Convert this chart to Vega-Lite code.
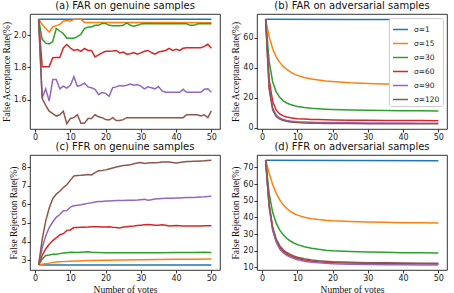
{
"$schema":"https://vega.github.io/schema/vega-lite/v6.json",
"padding":{"left":0,"top":0,"right":0,"bottom":0},
"config":{
"font":"DejaVu Sans",
"view":{"stroke":"#000","strokeWidth":0.8},
"axis":{"grid":false,"domain":false,"tickColor":"#000","tickSize":3,"tickWidth":0.8,"labelFontSize":8,"labelColor":"#222","labelPadding":1,"titleFont":"Liberation Serif","titleFontSize":9.5,"titleFontWeight":"normal","titleColor":"#111","titlePadding":2},
"title":{"fontSize":10,"fontWeight":"normal","font":"DejaVu Sans","offset":3,"color":"#111"},
"line":{"strokeWidth":1.5}
},
"datasets":{
"a":[
{"s":1,"n":1,"v":2.097},{"s":1,"n":50,"v":2.097},
{"s":15,"n":1,"v":2.097},{"s":15,"n":2,"v":2.065},{"s":15,"n":3,"v":2.04},{"s":15,"n":4,"v":2.018},{"s":15,"n":5,"v":2.05},{"s":15,"n":6,"v":2.058},{"s":15,"n":7,"v":2.066},{"s":15,"n":8,"v":2.085},{"s":15,"n":9,"v":2.09},{"s":15,"n":10,"v":2.085},{"s":15,"n":11,"v":2.097},{"s":15,"n":12,"v":2.097},{"s":15,"n":13,"v":2.097},{"s":15,"n":14,"v":2.078},{"s":15,"n":20,"v":2.078},{"s":15,"n":30,"v":2.078},{"s":15,"n":40,"v":2.077},{"s":15,"n":50,"v":2.076},
{"s":30,"n":1,"v":2.097},{"s":30,"n":2,"v":1.975},{"s":30,"n":3,"v":1.95},{"s":30,"n":4,"v":1.945},{"s":30,"n":5,"v":1.96},{"s":30,"n":6,"v":2.04},{"s":30,"n":7,"v":2.025},{"s":30,"n":8,"v":2.01},{"s":30,"n":9,"v":1.98},{"s":30,"n":10,"v":1.98},{"s":30,"n":11,"v":1.98},{"s":30,"n":12,"v":1.99},{"s":30,"n":13,"v":2.005},{"s":30,"n":14,"v":2.04},{"s":30,"n":15,"v":2.05},{"s":30,"n":16,"v":2.05},{"s":30,"n":17,"v":2.06},{"s":30,"n":18,"v":2.06},{"s":30,"n":19,"v":2.072},{"s":30,"n":20,"v":2.072},{"s":30,"n":21,"v":2.06},{"s":30,"n":22,"v":2.058},{"s":30,"n":23,"v":2.058},{"s":30,"n":24,"v":2.058},{"s":30,"n":25,"v":2.06},{"s":30,"n":26,"v":2.075},{"s":30,"n":27,"v":2.06},{"s":30,"n":28,"v":2.055},{"s":30,"n":29,"v":2.06},{"s":30,"n":30,"v":2.068},{"s":30,"n":31,"v":2.072},{"s":30,"n":35,"v":2.07},{"s":30,"n":40,"v":2.07},{"s":30,"n":43,"v":2.07},{"s":30,"n":44,"v":2.06},{"s":30,"n":45,"v":2.06},{"s":30,"n":46,"v":2.068},{"s":30,"n":47,"v":2.072},{"s":30,"n":48,"v":2.07},{"s":30,"n":49,"v":2.072},{"s":30,"n":50,"v":2.07},
{"s":60,"n":1,"v":2.097},{"s":60,"n":2,"v":1.805},{"s":60,"n":3,"v":1.805},{"s":60,"n":4,"v":1.805},{"s":60,"n":5,"v":1.86},{"s":60,"n":6,"v":1.862},{"s":60,"n":7,"v":1.862},{"s":60,"n":8,"v":1.92},{"s":60,"n":9,"v":1.942},{"s":60,"n":10,"v":1.92},{"s":60,"n":11,"v":1.905},{"s":60,"n":12,"v":1.91},{"s":60,"n":13,"v":1.9},{"s":60,"n":14,"v":1.918},{"s":60,"n":15,"v":1.905},{"s":60,"n":16,"v":1.905},{"s":60,"n":17,"v":1.865},{"s":60,"n":18,"v":1.878},{"s":60,"n":19,"v":1.89},{"s":60,"n":20,"v":1.9},{"s":60,"n":21,"v":1.9},{"s":60,"n":22,"v":1.902},{"s":60,"n":23,"v":1.905},{"s":60,"n":24,"v":1.89},{"s":60,"n":25,"v":1.895},{"s":60,"n":26,"v":1.882},{"s":60,"n":27,"v":1.885},{"s":60,"n":28,"v":1.892},{"s":60,"n":29,"v":1.882},{"s":60,"n":30,"v":1.89},{"s":60,"n":31,"v":1.9},{"s":60,"n":32,"v":1.905},{"s":60,"n":33,"v":1.892},{"s":60,"n":34,"v":1.882},{"s":60,"n":35,"v":1.895},{"s":60,"n":36,"v":1.9},{"s":60,"n":37,"v":1.905},{"s":60,"n":38,"v":1.918},{"s":60,"n":39,"v":1.905},{"s":60,"n":40,"v":1.912},{"s":60,"n":41,"v":1.905},{"s":60,"n":42,"v":1.918},{"s":60,"n":43,"v":1.922},{"s":60,"n":44,"v":1.922},{"s":60,"n":45,"v":1.922},{"s":60,"n":46,"v":1.922},{"s":60,"n":47,"v":1.922},{"s":60,"n":48,"v":1.93},{"s":60,"n":49,"v":1.943},{"s":60,"n":50,"v":1.918},
{"s":90,"n":1,"v":2.097},{"s":90,"n":2,"v":1.613},{"s":90,"n":3,"v":1.668},{"s":90,"n":4,"v":1.592},{"s":90,"n":5,"v":1.725},{"s":90,"n":6,"v":1.725},{"s":90,"n":7,"v":1.668},{"s":90,"n":8,"v":1.684},{"s":90,"n":9,"v":1.672},{"s":90,"n":10,"v":1.69},{"s":90,"n":11,"v":1.743},{"s":90,"n":12,"v":1.684},{"s":90,"n":13,"v":1.69},{"s":90,"n":14,"v":1.704},{"s":90,"n":15,"v":1.68},{"s":90,"n":16,"v":1.675},{"s":90,"n":17,"v":1.665},{"s":90,"n":18,"v":1.633},{"s":90,"n":19,"v":1.645},{"s":90,"n":20,"v":1.64},{"s":90,"n":21,"v":1.622},{"s":90,"n":22,"v":1.675},{"s":90,"n":23,"v":1.68},{"s":90,"n":24,"v":1.688},{"s":90,"n":25,"v":1.685},{"s":90,"n":26,"v":1.69},{"s":90,"n":27,"v":1.698},{"s":90,"n":28,"v":1.69},{"s":90,"n":29,"v":1.694},{"s":90,"n":30,"v":1.685},{"s":90,"n":31,"v":1.668},{"s":90,"n":32,"v":1.68},{"s":90,"n":33,"v":1.675},{"s":90,"n":34,"v":1.668},{"s":90,"n":35,"v":1.682},{"s":90,"n":36,"v":1.655},{"s":90,"n":37,"v":1.647},{"s":90,"n":41,"v":1.647},{"s":90,"n":42,"v":1.665},{"s":90,"n":43,"v":1.647},{"s":90,"n":47,"v":1.647},{"s":90,"n":48,"v":1.665},{"s":90,"n":49,"v":1.668},{"s":90,"n":50,"v":1.647},
{"s":120,"n":1,"v":2.097},{"s":120,"n":2,"v":1.61},{"s":120,"n":3,"v":1.566},{"s":120,"n":4,"v":1.53},{"s":120,"n":5,"v":1.515},{"s":120,"n":6,"v":1.5},{"s":120,"n":7,"v":1.508},{"s":120,"n":8,"v":1.53},{"s":120,"n":9,"v":1.452},{"s":120,"n":10,"v":1.485},{"s":120,"n":11,"v":1.49},{"s":120,"n":12,"v":1.508},{"s":120,"n":13,"v":1.455},{"s":120,"n":14,"v":1.455},{"s":120,"n":15,"v":1.485},{"s":120,"n":16,"v":1.485},{"s":120,"n":17,"v":1.508},{"s":120,"n":18,"v":1.495},{"s":120,"n":19,"v":1.49},{"s":120,"n":20,"v":1.478},{"s":120,"n":21,"v":1.475},{"s":120,"n":22,"v":1.49},{"s":120,"n":23,"v":1.472},{"s":120,"n":24,"v":1.472},{"s":120,"n":25,"v":1.478},{"s":120,"n":26,"v":1.49},{"s":120,"n":42,"v":1.49},{"s":120,"n":43,"v":1.508},{"s":120,"n":46,"v":1.508},{"s":120,"n":47,"v":1.5},{"s":120,"n":48,"v":1.508},{"s":120,"n":49,"v":1.49},{"s":120,"n":50,"v":1.532}
],
"b":[
{"s":1,"n":1,"v":72.1},{"s":1,"n":25,"v":72.0},{"s":1,"n":50,"v":71.9},
{"s":15,"n":1,"v":72.1},{"s":15,"n":2,"v":60.5},{"s":15,"n":3,"v":52.5},{"s":15,"n":4,"v":47.2},{"s":15,"n":5,"v":43.5},{"s":15,"n":6,"v":40.8},{"s":15,"n":7,"v":38.8},{"s":15,"n":8,"v":37.2},{"s":15,"n":9,"v":35.9},{"s":15,"n":10,"v":34.9},{"s":15,"n":12,"v":33.5},{"s":15,"n":14,"v":32.5},{"s":15,"n":16,"v":31.8},{"s":15,"n":18,"v":31.2},{"s":15,"n":20,"v":30.8},{"s":15,"n":25,"v":30.0},{"s":15,"n":30,"v":29.5},{"s":15,"n":35,"v":29.2},{"s":15,"n":40,"v":28.9},{"s":15,"n":45,"v":28.7},{"s":15,"n":50,"v":28.5},
{"s":30,"n":1,"v":72.1},{"s":30,"n":2,"v":44},{"s":30,"n":3,"v":30.5},{"s":30,"n":4,"v":24},{"s":30,"n":5,"v":20.3},{"s":30,"n":6,"v":18.0},{"s":30,"n":7,"v":16.6},{"s":30,"n":8,"v":15.6},{"s":30,"n":9,"v":14.9},{"s":30,"n":10,"v":14.3},{"s":30,"n":12,"v":13.6},{"s":30,"n":14,"v":13.1},{"s":30,"n":16,"v":12.8},{"s":30,"n":18,"v":12.5},{"s":30,"n":20,"v":12.3},{"s":30,"n":25,"v":12.0},{"s":30,"n":30,"v":11.8},{"s":30,"n":35,"v":11.6},{"s":30,"n":40,"v":11.5},{"s":30,"n":45,"v":11.4},{"s":30,"n":50,"v":11.3},
{"s":60,"n":1,"v":72.1},{"s":60,"n":2,"v":32},{"s":60,"n":3,"v":17.5},{"s":60,"n":4,"v":11.8},{"s":60,"n":5,"v":9.3},{"s":60,"n":6,"v":8.0},{"s":60,"n":7,"v":7.3},{"s":60,"n":8,"v":6.8},{"s":60,"n":9,"v":6.5},{"s":60,"n":10,"v":6.2},{"s":60,"n":12,"v":5.9},{"s":60,"n":14,"v":5.7},{"s":60,"n":16,"v":5.55},{"s":60,"n":18,"v":5.45},{"s":60,"n":20,"v":5.35},{"s":60,"n":25,"v":5.2},{"s":60,"n":30,"v":5.1},{"s":60,"n":35,"v":5.0},{"s":60,"n":40,"v":4.95},{"s":60,"n":45,"v":4.9},{"s":60,"n":50,"v":4.85},
{"s":90,"n":1,"v":72.1},{"s":90,"n":2,"v":27},{"s":90,"n":3,"v":13.2},{"s":90,"n":4,"v":8.5},{"s":90,"n":5,"v":6.6},{"s":90,"n":6,"v":5.6},{"s":90,"n":7,"v":5.0},{"s":90,"n":8,"v":4.6},{"s":90,"n":9,"v":4.35},{"s":90,"n":10,"v":4.15},{"s":90,"n":12,"v":3.9},{"s":90,"n":14,"v":3.75},{"s":90,"n":16,"v":3.65},{"s":90,"n":18,"v":3.58},{"s":90,"n":20,"v":3.52},{"s":90,"n":25,"v":3.42},{"s":90,"n":30,"v":3.35},{"s":90,"n":35,"v":3.3},{"s":90,"n":40,"v":3.25},{"s":90,"n":45,"v":3.22},{"s":90,"n":50,"v":3.2},
{"s":120,"n":1,"v":72.1},{"s":120,"n":2,"v":25.5},{"s":120,"n":3,"v":12},{"s":120,"n":4,"v":7.6},{"s":120,"n":5,"v":5.9},{"s":120,"n":6,"v":5.0},{"s":120,"n":7,"v":4.4},{"s":120,"n":8,"v":4.0},{"s":120,"n":9,"v":3.75},{"s":120,"n":10,"v":3.6},{"s":120,"n":12,"v":3.35},{"s":120,"n":14,"v":3.2},{"s":120,"n":16,"v":3.1},{"s":120,"n":18,"v":3.05},{"s":120,"n":20,"v":3.0},{"s":120,"n":25,"v":2.92},{"s":120,"n":30,"v":2.88},{"s":120,"n":35,"v":2.85},{"s":120,"n":40,"v":2.83},{"s":120,"n":45,"v":2.82},{"s":120,"n":50,"v":2.8}
],
"c":[
{"s":1,"n":1,"v":2.75},{"s":1,"n":3,"v":2.74},{"s":1,"n":50,"v":2.74},
{"s":15,"n":1,"v":2.75},{"s":15,"n":2,"v":2.78},{"s":15,"n":3,"v":2.8},{"s":15,"n":4,"v":2.84},{"s":15,"n":5,"v":2.88},{"s":15,"n":6,"v":2.9},{"s":15,"n":7,"v":2.91},{"s":15,"n":8,"v":2.92},{"s":15,"n":10,"v":2.94},{"s":15,"n":12,"v":2.96},{"s":15,"n":15,"v":2.98},{"s":15,"n":20,"v":3.0},{"s":15,"n":25,"v":3.01},{"s":15,"n":30,"v":3.02},{"s":15,"n":35,"v":3.04},{"s":15,"n":40,"v":3.05},{"s":15,"n":45,"v":3.05},{"s":15,"n":50,"v":3.06},
{"s":30,"n":1,"v":2.75},{"s":30,"n":2,"v":3.05},{"s":30,"n":3,"v":3.25},{"s":30,"n":4,"v":3.28},{"s":30,"n":5,"v":3.32},{"s":30,"n":6,"v":3.32},{"s":30,"n":7,"v":3.35},{"s":30,"n":8,"v":3.38},{"s":30,"n":9,"v":3.4},{"s":30,"n":10,"v":3.42},{"s":30,"n":12,"v":3.41},{"s":30,"n":14,"v":3.44},{"s":30,"n":15,"v":3.45},{"s":30,"n":16,"v":3.42},{"s":30,"n":18,"v":3.41},{"s":30,"n":20,"v":3.4},{"s":30,"n":25,"v":3.4},{"s":30,"n":30,"v":3.4},{"s":30,"n":35,"v":3.4},{"s":30,"n":40,"v":3.41},{"s":30,"n":45,"v":3.41},{"s":30,"n":48,"v":3.42},{"s":30,"n":50,"v":3.41},
{"s":60,"n":1,"v":2.75},{"s":60,"n":2,"v":3.25},{"s":60,"n":3,"v":3.6},{"s":60,"n":4,"v":3.85},{"s":60,"n":5,"v":4.05},{"s":60,"n":6,"v":4.2},{"s":60,"n":7,"v":4.35},{"s":60,"n":8,"v":4.42},{"s":60,"n":9,"v":4.6},{"s":60,"n":10,"v":4.62},{"s":60,"n":11,"v":4.75},{"s":60,"n":12,"v":4.76},{"s":60,"n":13,"v":4.77},{"s":60,"n":14,"v":4.77},{"s":60,"n":15,"v":4.78},{"s":60,"n":16,"v":4.8},{"s":60,"n":17,"v":4.8},{"s":60,"n":18,"v":4.79},{"s":60,"n":19,"v":4.78},{"s":60,"n":20,"v":4.78},{"s":60,"n":21,"v":4.8},{"s":60,"n":22,"v":4.77},{"s":60,"n":23,"v":4.76},{"s":60,"n":24,"v":4.73},{"s":60,"n":25,"v":4.78},{"s":60,"n":26,"v":4.8},{"s":60,"n":27,"v":4.82},{"s":60,"n":28,"v":4.83},{"s":60,"n":29,"v":4.86},{"s":60,"n":30,"v":4.88},{"s":60,"n":31,"v":4.9},{"s":60,"n":32,"v":4.92},{"s":60,"n":33,"v":4.9},{"s":60,"n":34,"v":4.88},{"s":60,"n":35,"v":4.88},{"s":60,"n":36,"v":4.9},{"s":60,"n":37,"v":4.88},{"s":60,"n":38,"v":4.84},{"s":60,"n":39,"v":4.85},{"s":60,"n":40,"v":4.86},{"s":60,"n":41,"v":4.85},{"s":60,"n":42,"v":4.84},{"s":60,"n":43,"v":4.83},{"s":60,"n":44,"v":4.84},{"s":60,"n":45,"v":4.84},{"s":60,"n":46,"v":4.83},{"s":60,"n":47,"v":4.84},{"s":60,"n":48,"v":4.85},{"s":60,"n":49,"v":4.85},{"s":60,"n":50,"v":4.85},
{"s":90,"n":1,"v":2.75},{"s":90,"n":2,"v":3.65},{"s":90,"n":3,"v":4.3},{"s":90,"n":4,"v":4.75},{"s":90,"n":5,"v":5.05},{"s":90,"n":6,"v":5.3},{"s":90,"n":7,"v":5.45},{"s":90,"n":8,"v":5.65},{"s":90,"n":9,"v":5.66},{"s":90,"n":10,"v":5.85},{"s":90,"n":11,"v":5.92},{"s":90,"n":12,"v":5.95},{"s":90,"n":13,"v":5.98},{"s":90,"n":14,"v":6.02},{"s":90,"n":15,"v":6.05},{"s":90,"n":16,"v":6.08},{"s":90,"n":17,"v":6.12},{"s":90,"n":18,"v":6.15},{"s":90,"n":19,"v":6.15},{"s":90,"n":20,"v":6.18},{"s":90,"n":21,"v":6.18},{"s":90,"n":22,"v":6.19},{"s":90,"n":23,"v":6.2},{"s":90,"n":24,"v":6.2},{"s":90,"n":25,"v":6.21},{"s":90,"n":26,"v":6.22},{"s":90,"n":27,"v":6.22},{"s":90,"n":28,"v":6.22},{"s":90,"n":29,"v":6.23},{"s":90,"n":30,"v":6.25},{"s":90,"n":31,"v":6.27},{"s":90,"n":32,"v":6.22},{"s":90,"n":33,"v":6.25},{"s":90,"n":34,"v":6.28},{"s":90,"n":35,"v":6.3},{"s":90,"n":36,"v":6.31},{"s":90,"n":37,"v":6.32},{"s":90,"n":38,"v":6.32},{"s":90,"n":39,"v":6.33},{"s":90,"n":40,"v":6.34},{"s":90,"n":41,"v":6.34},{"s":90,"n":42,"v":6.35},{"s":90,"n":43,"v":6.36},{"s":90,"n":44,"v":6.37},{"s":90,"n":45,"v":6.37},{"s":90,"n":46,"v":6.38},{"s":90,"n":47,"v":6.39},{"s":90,"n":48,"v":6.4},{"s":90,"n":49,"v":6.42},{"s":90,"n":50,"v":6.43},
{"s":120,"n":1,"v":2.75},{"s":120,"n":2,"v":4.1},{"s":120,"n":3,"v":5.1},{"s":120,"n":4,"v":5.8},{"s":120,"n":5,"v":6.3},{"s":120,"n":6,"v":6.55},{"s":120,"n":7,"v":6.7},{"s":120,"n":8,"v":6.9},{"s":120,"n":9,"v":7.05},{"s":120,"n":10,"v":7.3},{"s":120,"n":11,"v":7.52},{"s":120,"n":12,"v":7.55},{"s":120,"n":13,"v":7.56},{"s":120,"n":14,"v":7.58},{"s":120,"n":15,"v":7.6},{"s":120,"n":16,"v":7.58},{"s":120,"n":17,"v":7.7},{"s":120,"n":18,"v":7.8},{"s":120,"n":19,"v":7.82},{"s":120,"n":20,"v":7.85},{"s":120,"n":21,"v":7.9},{"s":120,"n":22,"v":7.95},{"s":120,"n":23,"v":8.0},{"s":120,"n":24,"v":8.05},{"s":120,"n":25,"v":8.08},{"s":120,"n":26,"v":8.1},{"s":120,"n":27,"v":8.12},{"s":120,"n":28,"v":8.18},{"s":120,"n":29,"v":8.22},{"s":120,"n":30,"v":8.25},{"s":120,"n":31,"v":8.2},{"s":120,"n":32,"v":8.22},{"s":120,"n":33,"v":8.23},{"s":120,"n":34,"v":8.24},{"s":120,"n":35,"v":8.25},{"s":120,"n":36,"v":8.27},{"s":120,"n":37,"v":8.28},{"s":120,"n":38,"v":8.28},{"s":120,"n":39,"v":8.25},{"s":120,"n":40,"v":8.22},{"s":120,"n":41,"v":8.25},{"s":120,"n":42,"v":8.28},{"s":120,"n":43,"v":8.3},{"s":120,"n":44,"v":8.3},{"s":120,"n":45,"v":8.31},{"s":120,"n":46,"v":8.32},{"s":120,"n":47,"v":8.33},{"s":120,"n":48,"v":8.34},{"s":120,"n":49,"v":8.36},{"s":120,"n":50,"v":8.37}
],
"d":[
{"s":1,"n":1,"v":74.3},{"s":1,"n":25,"v":74.1},{"s":1,"n":50,"v":74.0},
{"s":15,"n":1,"v":74.3},{"s":15,"n":2,"v":66.5},{"s":15,"n":3,"v":59.5},{"s":15,"n":4,"v":54.5},{"s":15,"n":5,"v":50.5},{"s":15,"n":6,"v":47.5},{"s":15,"n":7,"v":45.3},{"s":15,"n":8,"v":43.6},{"s":15,"n":9,"v":42.3},{"s":15,"n":10,"v":41.3},{"s":15,"n":12,"v":40.0},{"s":15,"n":14,"v":39.2},{"s":15,"n":16,"v":38.7},{"s":15,"n":18,"v":38.3},{"s":15,"n":20,"v":38.0},{"s":15,"n":25,"v":37.5},{"s":15,"n":30,"v":37.2},{"s":15,"n":35,"v":37.0},{"s":15,"n":40,"v":36.8},{"s":15,"n":45,"v":36.7},{"s":15,"n":50,"v":36.6},
{"s":30,"n":1,"v":74.3},{"s":30,"n":2,"v":54},{"s":30,"n":3,"v":43},{"s":30,"n":4,"v":36.5},{"s":30,"n":5,"v":32.3},{"s":30,"n":6,"v":29.5},{"s":30,"n":7,"v":27.4},{"s":30,"n":8,"v":25.8},{"s":30,"n":9,"v":24.6},{"s":30,"n":10,"v":23.6},{"s":30,"n":12,"v":22.3},{"s":30,"n":14,"v":21.4},{"s":30,"n":16,"v":20.8},{"s":30,"n":18,"v":20.3},{"s":30,"n":20,"v":20.0},{"s":30,"n":25,"v":19.5},{"s":30,"n":30,"v":19.2},{"s":30,"n":35,"v":19.0},{"s":30,"n":40,"v":18.8},{"s":30,"n":45,"v":18.7},{"s":30,"n":50,"v":18.6},
{"s":60,"n":1,"v":74.3},{"s":60,"n":2,"v":47},{"s":60,"n":3,"v":33},{"s":60,"n":4,"v":26},{"s":60,"n":5,"v":22},{"s":60,"n":6,"v":19.6},{"s":60,"n":7,"v":18.0},{"s":60,"n":8,"v":16.9},{"s":60,"n":9,"v":16.0},{"s":60,"n":10,"v":15.3},{"s":60,"n":12,"v":14.4},{"s":60,"n":14,"v":13.8},{"s":60,"n":16,"v":13.4},{"s":60,"n":18,"v":13.1},{"s":60,"n":20,"v":12.9},{"s":60,"n":25,"v":12.6},{"s":60,"n":30,"v":12.4},{"s":60,"n":35,"v":12.3},{"s":60,"n":40,"v":12.2},{"s":60,"n":45,"v":12.1},{"s":60,"n":50,"v":12.0},
{"s":90,"n":1,"v":74.3},{"s":90,"n":2,"v":46},{"s":90,"n":3,"v":32},{"s":90,"n":4,"v":25},{"s":90,"n":5,"v":21},{"s":90,"n":6,"v":18.7},{"s":90,"n":7,"v":17.2},{"s":90,"n":8,"v":16.1},{"s":90,"n":9,"v":15.3},{"s":90,"n":10,"v":14.6},{"s":90,"n":12,"v":13.7},{"s":90,"n":14,"v":13.1},{"s":90,"n":16,"v":12.7},{"s":90,"n":18,"v":12.4},{"s":90,"n":20,"v":12.2},{"s":90,"n":25,"v":11.9},{"s":90,"n":30,"v":11.7},{"s":90,"n":35,"v":11.6},{"s":90,"n":40,"v":11.5},{"s":90,"n":45,"v":11.45},{"s":90,"n":50,"v":11.4},
{"s":120,"n":1,"v":74.3},{"s":120,"n":2,"v":48},{"s":120,"n":3,"v":34},{"s":120,"n":4,"v":27},{"s":120,"n":5,"v":23},{"s":120,"n":6,"v":20.5},{"s":120,"n":7,"v":18.9},{"s":120,"n":8,"v":17.7},{"s":120,"n":9,"v":16.8},{"s":120,"n":10,"v":16.1},{"s":120,"n":12,"v":15.1},{"s":120,"n":14,"v":14.4},{"s":120,"n":16,"v":14.0},{"s":120,"n":18,"v":13.7},{"s":120,"n":20,"v":13.4},{"s":120,"n":25,"v":13.0},{"s":120,"n":30,"v":12.8},{"s":120,"n":35,"v":12.7},{"s":120,"n":40,"v":12.6},{"s":120,"n":45,"v":12.5},{"s":120,"n":50,"v":12.5}
]
},
"spacing":-1,
"resolve":{"scale":{"color":"independent"},"legend":{"color":"independent"}},
"vconcat":[
{"spacing":9,
"resolve":{"scale":{"color":"independent"},"legend":{"color":"independent"}},
"hconcat":[
{"width":190,"height":115,"title":"(a) FAR on genuine samples","data":{"name":"a"},
"mark":{"type":"line","strokeWidth":1.5,"clip":true},
"encoding":{
"x":{"field":"n","type":"quantitative","scale":{"domain":[-1.45,52.45],"nice":false,"zero":false},"axis":{"values":[0,10,20,30,40,50],"title":null}},
"y":{"field":"v","type":"quantitative","scale":{"domain":[1.42,2.13],"nice":false,"zero":false},"axis":{"values":[1.6,1.8,2.0],"format":".1f","title":"False Acceptance Rate(%)"}},
"color":{"field":"s","type":"nominal","scale":{"domain":[1,15,30,60,90,120],"range":["#1f77b4","#ff7f0e","#2ca02c","#d62728","#9467bd","#8c564b"]},"legend":null}}},
{"width":190,"height":115,"title":"(b) FAR on adversarial samples","data":{"name":"b"},
"mark":{"type":"line","strokeWidth":1.5,"clip":true},
"encoding":{
"x":{"field":"n","type":"quantitative","scale":{"domain":[-1.45,52.45],"nice":false,"zero":false},"axis":{"values":[0,10,20,30,40,50],"title":null}},
"y":{"field":"v","type":"quantitative","scale":{"domain":[-0.67,75.6],"nice":false,"zero":false},"axis":{"values":[0,20,40,60],"title":"False Acceptance Rate(%)"}},
"color":{"field":"s","type":"nominal","scale":{"domain":[1,15,30,60,90,120],"range":["#1f77b4","#ff7f0e","#2ca02c","#d62728","#9467bd","#8c564b"]},
"legend":{"title":null,"orient":"top-right","offset":4,"symbolType":"stroke","symbolStrokeWidth":1.5,"symbolSize":225,"labelExpr":"'σ=' + datum.label","labelFontSize":7.5,"labelColor":"#222","strokeColor":"#ccc","fillColor":"#fff","padding":3,"cornerRadius":2,"rowPadding":2,"labelOffset":5}}}}
]},
{"spacing":9,
"resolve":{"scale":{"color":"independent"},"legend":{"color":"independent"}},
"hconcat":[
{"width":190,"height":115,"title":"(c) FFR on genuine samples","data":{"name":"c"},
"mark":{"type":"line","strokeWidth":1.5,"clip":true},
"encoding":{
"x":{"field":"n","type":"quantitative","scale":{"domain":[-1.45,52.45],"nice":false,"zero":false},"axis":{"values":[0,10,20,30,40,50],"title":"Number of votes"}},
"y":{"field":"v","type":"quantitative","scale":{"domain":[2.47,8.65],"nice":false,"zero":false},"axis":{"values":[3,4,5,6,7,8],"title":"False Rejection Rate(%)"}},
"color":{"field":"s","type":"nominal","scale":{"domain":[1,15,30,60,90,120],"range":["#1f77b4","#ff7f0e","#2ca02c","#d62728","#9467bd","#8c564b"]},"legend":null}}},
{"width":190,"height":115,"title":"(d) FFR on adversarial samples","data":{"name":"d"},
"mark":{"type":"line","strokeWidth":1.5,"clip":true},
"encoding":{
"x":{"field":"n","type":"quantitative","scale":{"domain":[-1.45,52.45],"nice":false,"zero":false},"axis":{"values":[0,10,20,30,40,50],"title":"Number of votes"}},
"y":{"field":"v","type":"quantitative","scale":{"domain":[8.4,77.4],"nice":false,"zero":false},"axis":{"values":[10,20,30,40,50,60,70],"title":"False Rejection Rate(%)"}},
"color":{"field":"s","type":"nominal","scale":{"domain":[1,15,30,60,90,120],"range":["#1f77b4","#ff7f0e","#2ca02c","#d62728","#9467bd","#8c564b"]},"legend":null}}}
]}
]
}
